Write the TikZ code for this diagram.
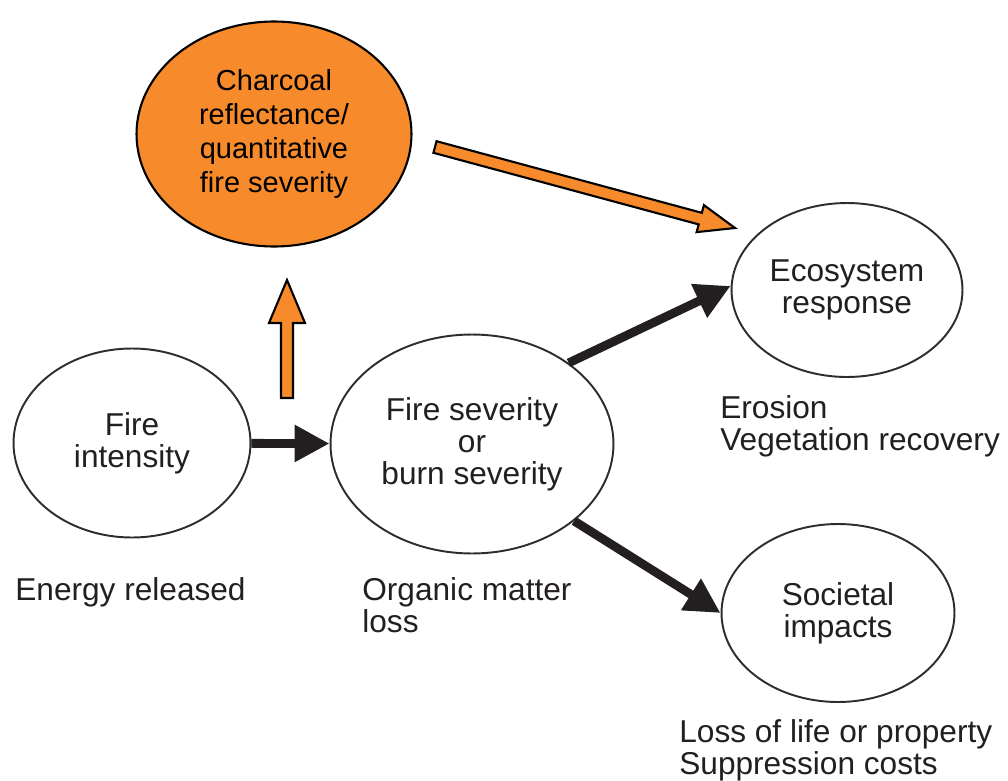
\documentclass[tikz,border=0pt]{standalone}
\usepackage{fontspec}
\setmainfont{Liberation Sans}
\usetikzlibrary{calc,shapes.geometric,arrows.meta}
\usepackage{xcolor}
\definecolor{charcoalorange}{RGB}{247,139,44}
\definecolor{inkdark}{RGB}{35,31,32}
\definecolor{rimgrey}{RGB}{45,45,45}

% hollow block arrow: {head half width}{head length}{from}{to}
\newcommand{\blockarrow}[4]{%
  \coordinate (ba-head) at ($(#4)!#2!(#3)$);
  \draw[blockarrowstyle]
    ($(#3)!0.12cm!90:(#4)$) -- ($(ba-head)!0.12cm!90:(#4)$)
    -- ($(ba-head)!#1!90:(#4)$) -- (#4)
    -- ($(ba-head)!#1!-90:(#4)$) -- ($(ba-head)!0.12cm!-90:(#4)$)
    -- ($(#3)!0.12cm!-90:(#4)$) -- cycle;
}

\tikzset{
  bubble/.style={ellipse,draw=rimgrey,line width=1.1pt,inner sep=0pt,align=center,text=inkdark},
  hotbubble/.style={ellipse,draw=black,fill=charcoalorange,line width=1.2pt,inner sep=0pt,
    align=center,font=\fontsize{16.5}{19.4}\selectfont},
  note/.style={anchor=west,align=left,inner sep=0pt,text=inkdark},
  flow/.style={draw=inkdark,line width=5pt,-{Triangle[length=0.7cm,width=0.7cm]}},
  blockarrowstyle/.style={fill=charcoalorange,draw=black,line width=1.2pt,line join=miter}
}

\begin{document}
\begin{tikzpicture}[x=0.02cm,y=-0.02cm,font=\fontsize{18}{18.2}\selectfont]
  \useasboundingbox (0,0) rectangle (1008,781);

  % --- charcoal bubble ---
  \node[hotbubble,minimum width=5.5cm,minimum height=4.5cm] (charcoal) at (274,134)
    {Charcoal\\reflectance/\\quantitative\\fire severity};

  % --- main chain ---
  \node[bubble,minimum width=4.74cm,minimum height=3.78cm] (fire) at (132,443) {Fire\\intensity};
  \node[bubble,minimum width=5.66cm,minimum height=4.38cm] (severity) at (472,444)
    {Fire severity\\or\\burn severity};
  \node[bubble,minimum width=4.62cm,minimum height=3.48cm] (ecosystem) at (847,290)
    {Ecosystem\\response};
  \node[bubble,minimum width=4.66cm,minimum height=3.56cm] (societal) at (838,613)
    {Societal\\impacts};

  % --- connectors ---
  \draw[flow] (fire) -- (severity);
  \draw[flow] (severity.40) -- (ecosystem.178);
  \draw[flow] (severity.-37) -- (societal.180);

  % --- orange block arrows ---
  \coordinate (rise-foot) at (287,398);
  \coordinate (rise-tip) at (287,280);
  \coordinate (slant-foot) at (435,147);
  \coordinate (slant-tip) at (735,228);
  \blockarrow{0.36cm}{0.86cm}{rise-foot}{rise-tip}
  \blockarrow{0.28cm}{0.72cm}{slant-foot}{slant-tip}

  % --- notes ---
  \node[note] (energy) at (15,592) {Energy released};
  \node[note] (organic) at (362,605) {Organic matter\\loss};
  \node[note] (erosion) at (720,426) {Erosion\\Vegetation recovery};
  \node[note] (losses) at (679,750) {Loss of life or property\\Suppression costs};

\end{tikzpicture}
\end{document}
